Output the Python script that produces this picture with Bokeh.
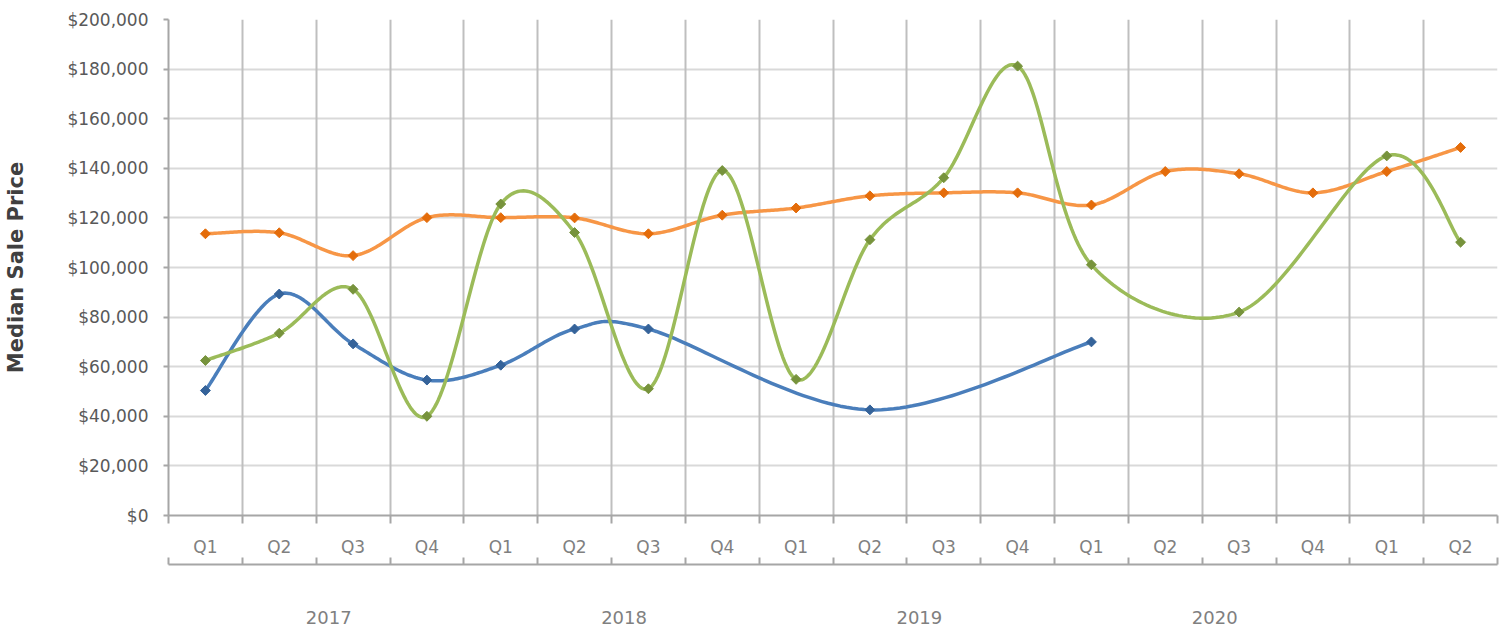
import numpy as np
from bokeh.plotting import figure
from bokeh.models import Range1d, LinearAxis, FixedTicker, NumeralTickFormatter, Grid
from bokeh.embed import file_html
from bokeh.resources import INLINE

# ---------------- data ----------------
quarters = ["Q1", "Q2", "Q3", "Q4"] * 4 + ["Q1", "Q2"]
years = ["2017", "2018", "2019", "2020"]
blue_values = [50400, 89300, 69200, 54600, 60600, 75200, 75200, None, None,
               42600, None, None, 70000, None, None, None, None, None]
orange_values = [113600, 114000, 104800, 120100, 120100, 120000, 113600, 121100, 124000,
                 128900, 130100, 130100, 125200, 138700, 137800, 130100, 138700, 148400]
green_values = [62500, 73500, 91200, 40000, 125600, 114100, 51100, 139100, 54900,
                111200, 136200, 181200, 101100, None, 82000, None, 145000, 110200]
y_ticks = list(range(0, 200001, 20000))

n = len(quarters)
centers = list(range(n))
bounds = [i - 0.5 for i in range(n + 1)]
year_pos = [4 * k + 1.67 for k in range(len(years))]

FONT = "DejaVu Sans"


def smooth(vals, steps=40):
    pts = np.array([(i, v) for i, v in enumerate(vals) if v is not None], float)
    m = len(pts)
    out = [pts[:1]]
    t = np.linspace(0, 1, steps)[:, None]
    for i in range(m - 1):
        p0 = pts[i - 1] if i > 0 else pts[i]
        p1, p2 = pts[i], pts[i + 1]
        p3 = pts[i + 2] if i + 2 < m else pts[i + 1]
        c1 = p1 + (p2 - p0) / 6.0
        c2 = p2 - (p3 - p1) / 6.0
        seg = (1 - t) ** 3 * p1 + 3 * (1 - t) ** 2 * t * c1 + 3 * (1 - t) * t ** 2 * c2 + t ** 3 * p2
        out.append(seg[1:])
    arr = np.vstack(out)
    return arr[:, 0], arr[:, 1]


p = figure(width=1507, height=635, x_range=Range1d(-0.5, n - 0.5), y_range=Range1d(0, 200000),
           output_backend="svg", toolbar_location=None, x_axis_type=None, y_axis_type=None,
           min_border_left=168, min_border_right=10, min_border_top=19, min_border_bottom=120)
p.outline_line_color = None
p.background_fill_color = "white"
p.border_fill_color = "white"

# grids
p.add_layout(Grid(dimension=1, ticker=FixedTicker(ticks=y_ticks),
                  grid_line_color="#d9d9d9", grid_line_width=2))
p.add_layout(Grid(dimension=0, ticker=FixedTicker(ticks=bounds),
                  grid_line_color="#bfbfbf", grid_line_width=2))

# y axis
yaxis = LinearAxis(ticker=FixedTicker(ticks=y_ticks), formatter=NumeralTickFormatter(format="$0,0"),
                   axis_line_color="#a6a6a6", axis_line_width=2,
                   major_tick_out=5, major_tick_in=0, major_tick_line_color="#a6a6a6", major_tick_line_width=2,
                   minor_tick_out=0, minor_tick_in=0,
                   major_label_text_font=FONT, major_label_text_font_size="17px",
                   major_label_text_color="#595959", major_label_standoff=15,
                   axis_label="Median Sale Price", axis_label_text_font=FONT,
                   axis_label_text_font_style="bold", axis_label_text_font_size="21px",
                   axis_label_text_color="#404040", axis_label_standoff=36)
p.add_layout(yaxis, "left")

# quarter axis
qaxis = LinearAxis(ticker=FixedTicker(ticks=centers, minor_ticks=bounds),
                   major_label_overrides={i: q for i, q in enumerate(quarters)},
                   axis_line_color="#a6a6a6", axis_line_width=2,
                   major_tick_out=0, major_tick_in=0,
                   minor_tick_out=8, minor_tick_in=0, minor_tick_line_color="#a6a6a6", minor_tick_line_width=2,
                   major_label_text_font=FONT, major_label_text_font_size="17px",
                   major_label_text_color="#808080", major_label_standoff=13,
                   axis_label=" ", axis_label_text_font_size="1px", axis_label_standoff=1)
p.add_layout(qaxis, "below")

# year axis
yraxis = LinearAxis(ticker=FixedTicker(ticks=year_pos, minor_ticks=bounds),
                    major_label_overrides={pos: yr for pos, yr in zip(year_pos, years)},
                    axis_line_color="#a6a6a6", axis_line_width=2,
                    major_tick_out=0, major_tick_in=0,
                    minor_tick_out=0, minor_tick_in=7, minor_tick_line_color="#a6a6a6", minor_tick_line_width=2,
                    major_label_text_font=FONT, major_label_text_font_size="18px",
                    major_label_text_color="#808080", major_label_standoff=46)
p.add_layout(yraxis, "below")

series = [
    (blue_values, "#4a7ebb", "#35639a"),
    (orange_values, "#f79646", "#e46c0a"),
    (green_values, "#9bbb59", "#77933c"),
]
for vals, lc, mc in series:
    sx, sy = smooth(vals)
    p.line(sx, sy, line_color=lc, line_width=3.5, line_join="round", line_cap="round")
    xs = [i for i, v in enumerate(vals) if v is not None]
    ys = [v for v in vals if v is not None]
    p.scatter(xs, ys, marker="square", angle=np.pi / 4, size=7, fill_color=mc, line_color=mc, line_width=1)

open("out.html", "w").write(file_html(p, INLINE))
